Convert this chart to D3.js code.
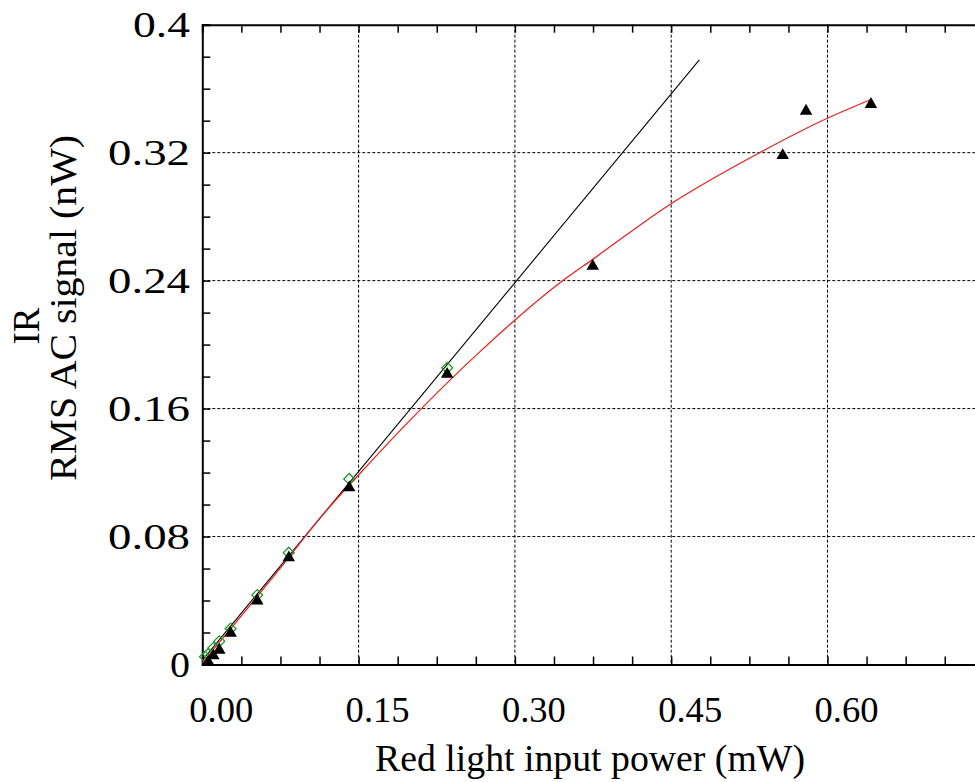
<!DOCTYPE html>
<html>
<head>
<meta charset="utf-8">
<script src="https://cdn.jsdelivr.net/npm/d3@7"></script>
<style>
  body { margin: 0; background: #fff; }
  svg { display: block; }
</style>
</head>
<body>
<script>
//--------------------------------------- DATA ------------------------------------------------------------
// red input power (mW) with the IR RMS AC signal (nW)
const powerX     = [0.0058, 0.0106, 0.0163, 0.0272, 0.0527, 0.083, 0.141, 0.235, 0.3747, 0.557, 0.5794, 0.6417];
const triangleY  = [0.0016, 0.0055, 0.0090, 0.0196, 0.0398, 0.0668, 0.1105, 0.1815, 0.2490, 0.3183, 0.3460, 0.3502];
// second series (open diamonds), only the low power points
const diamondX   = [0.0026, 0.0058, 0.0106, 0.0163, 0.0272, 0.0527, 0.083, 0.141, 0.235];
const diamondY   = [0.0049, 0.0066, 0.0103, 0.0145, 0.0224, 0.0434, 0.0699, 0.1160, 0.1855];

// linear fit (black), end points
const lineX = [0, 0.477];
const lineY = [0.0026, 0.378];

// saturating fit (red)
const curveX = [0, 0.081, 0.1113, 0.150, 0.2665, 0.3433, 0.3747, 0.4495, 0.5352, 0.5998, 0.6424];
const curveY = [0.001, 0.0653, 0.0903, 0.1185, 0.1956, 0.2387, 0.2533, 0.2879, 0.3201, 0.3415, 0.3534];

// ticks
const xTickValues = [0, 0.15, 0.30, 0.45, 0.60];
const xTickLabels = ["0.00", "0.15", "0.30", "0.45", "0.60"];
const yTickValues = [0, 0.08, 0.16, 0.24, 0.32, 0.4];
const yTickLabels = ["0", "0.08", "0.16", "0.24", "0.32", "0.4"];
const xMinorStep = 0.0375,
    yMinorStep = 0.02;

//--------------------------------------- init ------------------------------------------------------------
const width = 975,
    height = 782,
    plotLeft = 202.3,
    plotTop = 24.7,
    plotBottom = 664.5,
    serif = "'Liberation Serif', Tinos, 'Times New Roman', Times, 'DejaVu Serif', serif";

const xScale = d3.scaleLinear().domain([0, 0.75]).range([plotLeft, plotLeft + 0.75 / 0.15 * 156.3]);
const yScale = d3.scaleLinear().domain([0, 0.4]).range([plotBottom, plotTop]);

const xMinor = d3.range(0, 0.75 + 1e-9, xMinorStep);
const yMinor = d3.range(0, 0.4 + 1e-9, yMinorStep);

const svg = d3.select("body").append("svg")
    .attr("width", width)
    .attr("height", height)
    .attr("font-family", serif);

//----------------------------- grid --------------------------------
svg.append("g")
  .selectAll("line")
  .data(xTickValues.slice(1))
  .join("line")
    .attr("x1", d => xScale(d)).attr("x2", d => xScale(d))
    .attr("y1", plotTop).attr("y2", plotBottom)
    .attr("stroke", "#000")
    .attr("stroke-width", 1)
    .attr("stroke-dasharray", "3,2");

svg.append("g")
  .selectAll("line")
  .data(yTickValues.slice(1, -1))
  .join("line")
    .attr("x1", plotLeft).attr("x2", xScale(0.75))
    .attr("y1", d => yScale(d)).attr("y2", d => yScale(d))
    .attr("stroke", "#000")
    .attr("stroke-width", 1)
    .attr("stroke-dasharray", "3,2");

//----------------------------- axes (ticks inward) --------------------------------
const xBottom = d3.axisBottom(xScale).tickValues(xMinor).tickSize(-8).tickFormat("");
const xTop = d3.axisTop(xScale).tickValues(xMinor).tickSize(-8).tickFormat("");
const yLeft = d3.axisLeft(yScale).tickValues(yMinor).tickSize(-8).tickFormat("");

svg.append("g").attr("class", "axis").attr("transform", `translate(0,${plotBottom})`).call(xBottom);
svg.append("g").attr("class", "axis").attr("transform", `translate(0,${plotTop})`).call(xTop);
svg.append("g").attr("class", "axis").attr("transform", `translate(${plotLeft},0)`).call(yLeft);

svg.selectAll(".axis path").attr("stroke", "#000").attr("stroke-width", 2);
svg.selectAll(".axis line").attr("stroke", "#000").attr("stroke-width", 1.5);

//----------------------------- tick labels --------------------------------
// the labels of the original are drawn wide, so their lengths are set
svg.append("g")
  .selectAll("text")
  .data(xTickValues)
  .join("text")
    .attr("x", d => xScale(d) + 19)
    .attr("y", 722)
    .attr("text-anchor", "middle")
    .attr("font-size", 36)
    .attr("textLength", 64)
    .attr("lengthAdjust", "spacingAndGlyphs")
    .text((d, i) => xTickLabels[i]);

svg.append("g")
  .selectAll("text")
  .data(yTickValues)
  .join("text")
    .attr("x", 190)
    .attr("y", d => yScale(d) + 12)
    .attr("text-anchor", "end")
    .attr("font-size", 36)
    .attr("textLength", (d, i) => yTickLabels[i].length === 1 ? 20 : yTickLabels[i].length === 3 ? 57 : 82)
    .attr("lengthAdjust", "spacingAndGlyphs")
    .text((d, i) => yTickLabels[i]);

//----------------------------- axis titles --------------------------------
svg.append("text")
  .attr("x", 590)
  .attr("y", 771)
  .attr("text-anchor", "middle")
  .attr("font-size", 37)
  .attr("textLength", 430)
  .attr("lengthAdjust", "spacingAndGlyphs")
  .text("Red light input power (mW)");

svg.append("text")
  .attr("transform", "translate(76,308) rotate(-90)")
  .attr("text-anchor", "middle")
  .attr("font-size", 37)
  .attr("textLength", 346)
  .attr("lengthAdjust", "spacingAndGlyphs")
  .text("RMS AC signal (nW)");

svg.append("text")
  .attr("transform", "translate(39,326) rotate(-90)")
  .attr("text-anchor", "middle")
  .attr("font-size", 37)
  .text("IR");

//----------------------------- fits --------------------------------
const plot = svg.append("g");

plot.append("path")
  .datum(lineX.map((x, i) => [x, lineY[i]]))
  .attr("d", d3.line().x(d => xScale(d[0])).y(d => yScale(d[1])))
  .attr("stroke", "#000")
  .attr("stroke-width", 1.1)
  .attr("fill", "none");

plot.append("path")
  .datum(curveX.map((x, i) => [x, curveY[i]]))
  .attr("d", d3.line().x(d => xScale(d[0])).y(d => yScale(d[1])).curve(d3.curveMonotoneX))
  .attr("stroke", "#e8231f")
  .attr("stroke-width", 1.3)
  .attr("fill", "none");

//----------------------------- markers --------------------------------
plot.append("g")
  .selectAll("path")
  .data(diamondX.map((x, i) => [x, diamondY[i]]))
  .join("path")
    .attr("d", d3.symbol(d3.symbolSquare, 60))
    .attr("transform", d => `translate(${xScale(d[0])},${yScale(d[1])}) rotate(45)`)
    .attr("fill", "none")
    .attr("stroke", "#1f9a2a")
    .attr("stroke-width", 1.3);

plot.append("g")
  .selectAll("path")
  .data(powerX.map((x, i) => [x, triangleY[i]]))
  .join("path")
    .attr("d", d3.symbol(d3.symbolTriangle, 68))
    .attr("transform", d => `translate(${xScale(d[0])},${yScale(d[1])})`)
    .attr("fill", "#000");
</script>
</body>
</html>
